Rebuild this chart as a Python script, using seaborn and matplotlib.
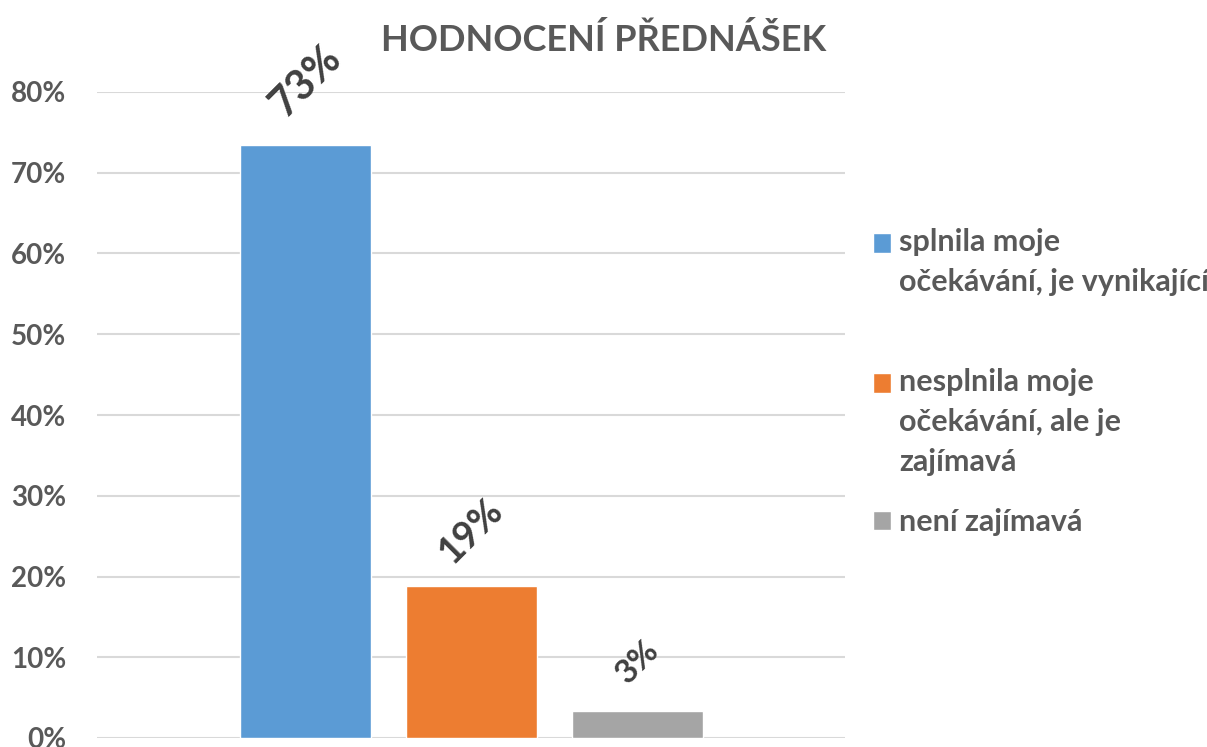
import matplotlib
matplotlib.use("Agg")
import matplotlib.pyplot as plt
import seaborn as sns
import pandas as pd
from matplotlib.patches import Patch, Rectangle
from matplotlib.legend_handler import HandlerPatch
from matplotlib.ticker import PercentFormatter, MultipleLocator

title = "HODNOCENÍ PŘEDNÁŠEK"
answers = [
    "splnila moje\nočekávání, je vynikající",
    "nesplnila moje\nočekávání, ale je\nzajímavá",
    "není zajímavá",
]
shares = [0.734, 0.188, 0.034]
colors = ["#5B9BD5", "#ED7D31", "#A5A5A5"]

df = pd.DataFrame({"answer": answers, "share": shares})

sns.set_theme(style="white")
plt.rcParams["font.family"] = ["Lato", "DejaVu Sans"]
plt.rcParams["font.weight"] = "bold"

fig = plt.figure(figsize=(12.07, 7.47), dpi=100)
ax = fig.add_axes([97 / 1207, 9 / 747, 748 / 1207, 646 / 747])

sns.barplot(data=df, x="answer", y="share", hue="answer", palette=colors,
            width=0.79, saturation=1, legend=False, ax=ax)

ax.set_xlim(-1.256, 3.25)
ax.set_ylim(0, 0.8)
ax.yaxis.set_major_locator(MultipleLocator(0.1))
ax.yaxis.set_major_formatter(PercentFormatter(1, decimals=0))
ax.set_xticks([])
ax.set_xlabel("")
ax.set_ylabel("")
ax.tick_params(axis="y", labelsize=20, labelcolor="#595959", length=0, pad=22)
ax.yaxis.grid(True, color="#D9D9D9", lw=1.5)
ax.set_axisbelow(True)
sns.despine(ax=ax, left=True, bottom=True)

# value labels, rotated like the original
label_sizes = [30, 27, 24]
label_offsets = [46, 40, 35]
for bar, v, fs, off in zip(ax.patches, shares, label_sizes, label_offsets):
    ax.annotate(f"{v:.0%}", (bar.get_x() + bar.get_width() / 2, v),
                xytext=(0, off), textcoords="offset points",
                ha="center", va="center", rotation=45,
                fontsize=fs, fontweight="bold", color="#404040",
                annotation_clip=False)

fig.text(0.5, (747 - 40) / 747, title, ha="center", va="center",
         fontsize=26, fontweight="bold", color="#595959")


# legend marker sits on the first line of a multi-line entry
def first_line_handler(shift):
    def patch_func(legend, orig_handle, xdescent, ydescent, width, height, fontsize):
        return Rectangle((-xdescent, -ydescent + shift), width, height)
    return HandlerPatch(patch_func=patch_func)


leg_labels = [answers[0] + "\n", answers[1], answers[2]]
handles = [Patch(facecolor=c) for c in colors]
line_pt = 28.5
shifts = [line_pt, line_pt, 0]
fig.legend(handles, leg_labels, loc="upper left",
           bbox_to_anchor=(873 / 1207, (747 - 228) / 747),
           bbox_transform=fig.transFigure, frameon=False,
           labelcolor="#595959", borderpad=0, borderaxespad=0,
           handlelength=0.59, handleheight=0.59, handletextpad=0.26,
           labelspacing=1.05,
           prop={"weight": "bold", "size": 22},
           handler_map={h: first_line_handler(s) for h, s in zip(handles, shifts)})
for t in fig.legends[0].get_texts():
    t.set_linespacing(1.52)

fig.savefig("out.png", dpi=100)
